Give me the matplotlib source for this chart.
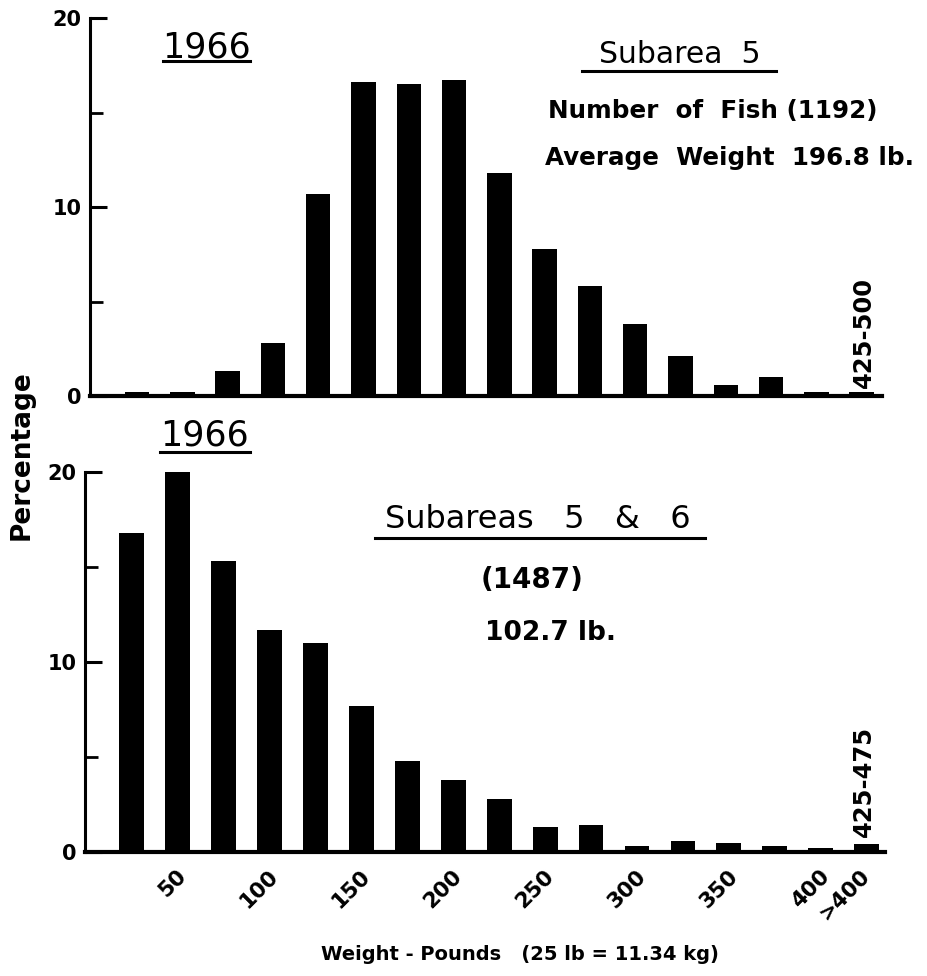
import matplotlib
matplotlib.use("Agg")
import matplotlib.pyplot as plt
from matplotlib.lines import Line2D
from matplotlib.ticker import MultipleLocator

# Нижние границы классов веса (шаг 25 фунтов)
bin_lower = [0, 25, 50, 75, 100, 125, 150, 175, 200, 225, 250, 275, 300, 325, 350, 375, 400]

# Проценты по классам
pct_sub5 = [0.2, 0.2, 1.3, 2.8, 10.7, 16.6, 16.5, 16.7, 11.8, 7.8, 5.8, 3.8, 2.1, 0.6, 1.0, 0.2, 0.2]
pct_sub56 = [16.8, 20.0, 15.3, 11.7, 11.0, 7.7, 4.8, 3.8, 2.8, 1.3, 1.4, 0.3, 0.6, 0.5, 0.3, 0.2, 0.4]

# Подписи оси X
xtick_weights = [50, 100, 150, 200, 250, 300, 350, 400]
xtick_labels = ["50", "100", "150", "200", "250", "300", "350", "400", ">400"]

W, H = 928, 976
plt.rcParams['font.family'] = ['DejaVu Sans']
plt.rcParams['font.weight'] = 'bold'

fig = plt.figure(figsize=(W / 100, H / 100), dpi=100)


def fx(x):
    return x / W


def fy(y):
    return 1 - y / H


def style_axes(ax, xlim):
    ax.set_xlim(*xlim)
    ax.set_ylim(0, 20)
    for s in ['top', 'right']:
        ax.spines[s].set_visible(False)
    ax.spines['left'].set_linewidth(2.2)
    ax.spines['bottom'].set_linewidth(3.0)
    ax.set_yticks([0, 10, 20])
    ax.yaxis.set_minor_locator(MultipleLocator(5))
    ax.tick_params(axis='y', which='major', direction='in', length=12, width=2.2,
                   labelsize=15, pad=6)
    ax.tick_params(axis='y', which='minor', direction='in', length=9, width=2.0)
    for lab in ax.get_yticklabels():
        lab.set_fontweight('bold')


idx = list(range(len(bin_lower)))

# Верхний график: Subarea 5
ax1 = fig.add_axes([fx(90), fy(396), fx(882 - 90), (396 - 18) / H])
ax1.bar(idx, pct_sub5, width=0.54, color='black')
style_axes(ax1, (-1.04, 16.45))
ax1.set_xticks([])

# Нижний график: Subareas 5 & 6
ax2 = fig.add_axes([fx(85), fy(852), fx(885 - 85), (852 - 472) / H])
ax2.bar(idx, pct_sub56, width=0.54, color='black')
style_axes(ax2, (-1.02, 16.4))
tick_pos = [w / 25 - 0.5 - 0.22 for w in xtick_weights] + [idx[-1] + 0.15]
ax2.set_xticks(tick_pos)
ax2.set_xticklabels(xtick_labels, rotation=45, ha='right', va='top',
                    fontsize=15.5, fontweight='bold')
ax2.tick_params(axis='x', length=0, pad=10)


def underline(x0, x1, y):
    fig.add_artist(Line2D([fx(x0), fx(x1)], [fy(y), fy(y)], transform=fig.transFigure,
                          color='black', lw=2.2))


# Надписи верхнего графика
fig.text(fx(206), fy(57), "1966", fontsize=25, fontweight='normal', ha='center', va='baseline')
underline(163, 250, 61)
fig.text(fx(680), fy(63), "Subarea  5", fontsize=21.5, fontweight='normal', ha='center', va='baseline')
underline(582, 776, 71)
fig.text(fx(548), fy(118), "Number  of  Fish (1192)", fontsize=17.7, ha='left', va='baseline')
fig.text(fx(545), fy(165), "Average  Weight  196.8 lb.", fontsize=17.7, ha='left', va='baseline')
fig.text(fx(864), fy(388), "425-500", fontsize=17.5, rotation=90, ha='center', va='bottom')

# Надписи нижнего графика
fig.text(fx(205), fy(445), "1966", fontsize=25, fontweight='normal', ha='center', va='baseline')
underline(160, 250, 452)
fig.text(fx(538), fy(528), "Subareas   5   &   6", fontsize=23, fontweight='normal', ha='center', va='baseline')
underline(375, 705, 538)
fig.text(fx(481), fy(588), "(1487)", fontsize=20, ha='left', va='baseline')
fig.text(fx(485), fy(640), "102.7 lb.", fontsize=19, ha='left', va='baseline')
fig.text(fx(864), fy(837), "425-475", fontsize=17.5, rotation=90, ha='center', va='bottom')

# Подписи осей
fig.text(fx(22), fy(455), "Percentage", fontsize=19, rotation=90, ha='center', va='center')
fig.text(fx(520), fy(960), "Weight - Pounds   (25 lb = 11.34 kg)", fontsize=14,
         ha='center', va='baseline')

fig.savefig("out.png", dpi=100)
